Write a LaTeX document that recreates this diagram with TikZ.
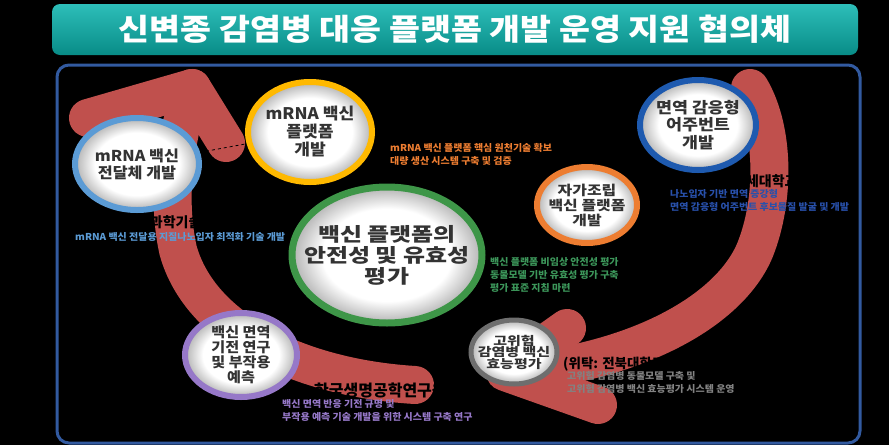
\documentclass[tikz,border=0pt]{standalone}
\usepackage{fontspec}
\setmainfont{Noto Sans CJK KR}
\usetikzlibrary{shapes.geometric}
\definecolor{arrowred}{RGB}{192,80,77}
\definecolor{frameblue}{RGB}{50,90,160}
\definecolor{tealtop}{RGB}{45,190,185}
\definecolor{tealbot}{RGB}{8,140,135}
\definecolor{cLightBlue}{RGB}{91,155,213}
\definecolor{cYellow}{RGB}{255,185,0}
\definecolor{cGreen}{RGB}{62,150,72}
\definecolor{cOrange}{RGB}{237,125,49}
\definecolor{cBlue}{RGB}{30,90,175}
\definecolor{cPurple}{RGB}{150,120,200}
\definecolor{cGray}{RGB}{110,110,110}
\definecolor{tBlue}{RGB}{40,80,170}
\definecolor{tGreen}{RGB}{60,150,90}
\definecolor{tGray}{RGB}{130,130,130}
\pgfdeclareradialshading{glow}{\pgfpoint{0bp}{0bp}}{color(0bp)=(white); color(17bp)=(white); color(25bp)=(black!30); color(50bp)=(black!30)}
\newcommand\wide[1]{\addfontfeatures{FakeStretch=#1}}
\tikzset{
  bub/.style={ellipse, shading=glow, line width=6, inner sep=0},
  lab/.style={align=center, text=black!80, inner sep=0},
  band/.style={draw=arrowred, line width=38, line cap=round, line join=round},
  inst/.style={font=\bfseries\fontsize{14}{14}\selectfont, text=black, inner sep=0, anchor=west},
  note/.style={font=\bfseries\fontsize{9.5}{13}\selectfont\wide{1.05}, align=left, anchor=north west, inner sep=0},
}
\begin{document}
\begin{tikzpicture}[x=1pt,y=-1pt]
\fill[black] (0,0) rectangle (889,445);
\useasboundingbox (0,0) rectangle (889,445);
% title
\node[rounded corners=8, top color=tealtop, bottom color=tealbot, minimum width=806, minimum height=51, inner sep=0] (bar) at (455,29.5) {};
\node[font=\bfseries\fontsize{30}{30}\selectfont\wide{1.12}, text=white] (title) at (bar.center) {신변종 감염병 대응 플랫폼 개발 운영 지원 협의체};
% frame
\draw[frameblue, line width=3, rounded corners=12] (57,65) rectangle (860,443);
% red cycle arrows
\draw[band] (415,385) .. controls (300,378) and (200,330) .. (178,250) .. controls (165,190) and (178,130) .. (192,88);
\draw[band] (88,118) -- (192,88) -- (226,143);
\draw[band] (750,88) .. controls (775,130) and (775,200) .. (755,250) .. controls (730,310) and (640,360) .. (520,372);
\draw[band] (567,328) -- (505,372) -- (598,405);
% institution names (black, visible on red)
\node[inst] (i1) at (124,222) {한국과학기술원};
\node[inst] (i2) at (733,181) {연세대학교};
\node[inst, font=\bfseries\fontsize{16}{16}\selectfont] (i3) at (314,390) {한국생명공학연구원};
\node[inst, font=\bfseries\fontsize{13.5}{13.5}\selectfont] (i4) at (563,364) {(위탁: 전북대학교)};
% nodes
\node[bub, draw=cLightBlue, minimum width=124, minimum height=92,
  label={[lab, font=\bfseries\fontsize{15}{17}\selectfont\wide{1.08}]center:{mRNA 백신\\전달체 개발}}] (n1) at (137,164) {};
\node[bub, draw=cYellow, minimum width=124, minimum height=100,
  label={[lab, font=\bfseries\fontsize{16}{18}\selectfont\wide{1.07}]center:{mRNA 백신\\플랫폼\\개발}}] (n2) at (310,132) {};
\draw[dashed, black, line width=0.8] (n1) -- (n2);
\node[bub, draw=cGreen, line width=7, minimum width=190, minimum height=136,
  label={[lab, font=\bfseries\fontsize{19}{21}\selectfont\wide{1.26}]center:{백신 플랫폼의\\안전성 및 유효성\\평가}}] (n3) at (387,255) {};
\node[bub, draw=cOrange, minimum width=100, minimum height=76,
  label={[lab, font=\bfseries\fontsize{13.5}{15}\selectfont\wide{1.18}]center:{자가조립\\백신 플랫폼\\개발}}] (n4) at (587,205) {};
\node[bub, draw=cBlue, minimum width=116, minimum height=90,
  label={[lab, font=\bfseries\fontsize{15.5}{17.5}\selectfont\wide{1.12}]center:{면역 감응형\\어주번트\\개발}}] (n5) at (698,125) {};
\node[bub, draw=cPurple, minimum width=112, minimum height=84,
  label={[lab, font=\bfseries\fontsize{14}{15}\selectfont\wide{1.08}]center:{백신 면역\\기전 연구\\및 부작용\\예측}}] (n6) at (241,355) {};
\node[bub, draw=cGray, line width=5, minimum width=86, minimum height=64,
  label={[lab, font=\bfseries\fontsize{12}{11.5}\selectfont\wide{1.25}]center:{고위험\\감염병 백신\\효능평가}}] (n7) at (514,352) {};
% notes
\node[note, text=cLightBlue] (t1) at (75,232) {mRNA 백신 전달용 지질나노입자 최적화 기술 개발};
\node[note, text=cOrange] (t2) at (390,143) {mRNA 백신 플랫폼 핵심 원천기술 확보\\대량 생산 시스템 구축 및 검증};
\node[note, text=tBlue] (t3) at (670,189) {나노입자 기반 면역 증강형\\면역 감응형 어주번트 후보물질 발굴 및 개발};
\node[note, text=tGreen] (t4) at (490,257) {백신 플랫폼 비임상 안전성 평가\\동물모델 기반 유효성 평가 구축\\평가 표준 지침 마련};
\node[note, text=cPurple] (t5) at (282,399) {백신 면역 반응 기전 규명 및\\부작용 예측 기술 개발을 위한 시스템 구축 연구};
\node[note, text=tGray] (t6) at (567,371) {고위험 감염병 동물모델 구축 및\\고위험 감염병 백신 효능평가 시스템 운영};
\end{tikzpicture}
\end{document}
